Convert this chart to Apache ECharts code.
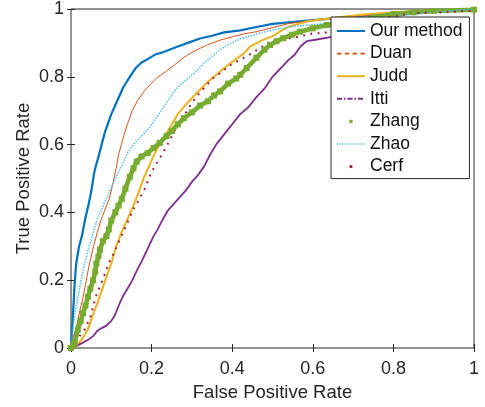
<!DOCTYPE html>
<html>
<head>
<meta charset="utf-8">
<script src="https://cdn.jsdelivr.net/npm/echarts@6/dist/echarts.min.js"></script>
<style>html,body{margin:0;padding:0;background:#fff}#c{width:485px;height:407px}</style>
</head>
<body>
<div id="c"></div>
<script>
var xTicks = [0, 0.2, 0.4, 0.6, 0.8, 1];
var yTicks = [0, 0.2, 0.4, 0.6, 0.8, 1];
var seriesNames = ['Our method', 'Duan', 'Judd', 'Itti', 'Zhang', 'Zhao', 'Cerf'];

var ourFpr = [0,0.003,0.005,0.009,0.013,0.02,0.027,0.035,0.043,0.05,0.058,0.067,0.076,0.085,0.1,0.115,0.13,0.146,0.16,0.175,0.19,0.21,0.23,0.26,0.29,0.32,0.35,0.38,0.42,0.46,0.5,0.56,0.63,0.7,0.77,0.85,0.92,1];
var ourTpr = [0,0.06,0.10,0.19,0.25,0.30,0.33,0.38,0.42,0.46,0.52,0.56,0.60,0.64,0.69,0.73,0.77,0.80,0.825,0.842,0.852,0.866,0.873,0.887,0.90,0.913,0.921,0.931,0.937,0.947,0.956,0.963,0.97,0.978,0.985,0.992,0.997,1];

var duanFpr = [0,0.005,0.013,0.022,0.03,0.038,0.046,0.056,0.065,0.075,0.085,0.095,0.105,0.112,0.118,0.125,0.132,0.14,0.152,0.165,0.18,0.195,0.213,0.235,0.26,0.28,0.30,0.32,0.34,0.37,0.40,0.43,0.46,0.50,0.54,0.60,0.66,0.72,0.80,0.88,1];
var duanTpr = [0,0.03,0.06,0.11,0.15,0.20,0.25,0.30,0.34,0.38,0.41,0.44,0.49,0.53,0.57,0.60,0.63,0.66,0.70,0.73,0.755,0.775,0.797,0.815,0.838,0.857,0.872,0.884,0.895,0.908,0.918,0.927,0.933,0.945,0.957,0.966,0.973,0.98,0.988,0.995,1];

var juddFpr = [0,0.01,0.02,0.03,0.042,0.055,0.065,0.075,0.088,0.10,0.112,0.125,0.14,0.155,0.168,0.18,0.193,0.207,0.222,0.235,0.248,0.265,0.285,0.31,0.335,0.36,0.38,0.41,0.43,0.445,0.475,0.50,0.52,0.54,0.585,0.625,0.68,0.74,0.80,0.87,1];
var juddTpr = [0,0.002,0.015,0.03,0.055,0.10,0.13,0.165,0.21,0.25,0.30,0.34,0.38,0.42,0.46,0.50,0.535,0.572,0.605,0.63,0.655,0.69,0.718,0.75,0.78,0.805,0.826,0.853,0.87,0.89,0.908,0.92,0.935,0.948,0.963,0.97,0.978,0.985,0.99,0.995,1];

var ittiFpr = [0,0.01,0.02,0.03,0.042,0.055,0.065,0.075,0.088,0.10,0.108,0.115,0.122,0.13,0.14,0.15,0.158,0.166,0.175,0.185,0.195,0.205,0.215,0.228,0.24,0.255,0.27,0.285,0.30,0.315,0.33,0.345,0.36,0.38,0.40,0.42,0.44,0.46,0.48,0.50,0.52,0.54,0.555,0.57,0.585,0.61,0.64,0.67,0.72,0.78,0.83,0.90,1];
var ittiTpr = [0,0.005,0.01,0.016,0.024,0.035,0.05,0.058,0.066,0.08,0.095,0.115,0.135,0.155,0.175,0.195,0.215,0.235,0.255,0.28,0.305,0.33,0.35,0.38,0.405,0.425,0.445,0.465,0.49,0.51,0.535,0.57,0.60,0.63,0.66,0.69,0.71,0.74,0.765,0.80,0.825,0.85,0.865,0.89,0.905,0.91,0.916,0.925,0.945,0.97,0.985,0.993,0.998];

var zhangFpr = [0,0.005,0.009,0.017,0.024,0.03,0.036,0.042,0.048,0.055,0.06,0.063,0.068,0.072,0.079,0.088,0.094,0.10,0.11,0.118,0.126,0.135,0.146,0.155,0.163,0.175,0.19,0.205,0.22,0.237,0.25,0.265,0.28,0.30,0.32,0.34,0.355,0.37,0.39,0.41,0.42,0.436,0.46,0.48,0.494,0.51,0.527,0.548,0.568,0.60,0.635,0.66,0.70,0.75,0.80,0.85,0.90,1];
var zhangTpr = [0,0.008,0.015,0.054,0.08,0.103,0.125,0.151,0.175,0.20,0.225,0.249,0.27,0.29,0.315,0.33,0.35,0.376,0.40,0.42,0.44,0.47,0.505,0.53,0.55,0.565,0.575,0.59,0.605,0.625,0.64,0.66,0.678,0.695,0.715,0.728,0.745,0.757,0.78,0.795,0.806,0.826,0.856,0.88,0.894,0.905,0.914,0.924,0.933,0.943,0.953,0.958,0.965,0.975,0.985,0.99,0.994,0.998];

var zhaoFpr = [0,0.002,0.005,0.01,0.017,0.025,0.034,0.045,0.055,0.065,0.08,0.095,0.11,0.125,0.14,0.155,0.175,0.195,0.215,0.235,0.255,0.27,0.29,0.31,0.33,0.35,0.37,0.39,0.42,0.46,0.50,0.55,0.61,0.67,0.73,0.80,0.85,0.90,0.95,1];
var zhaoTpr = [0,0.03,0.06,0.10,0.15,0.20,0.25,0.30,0.34,0.38,0.42,0.46,0.50,0.535,0.575,0.60,0.625,0.65,0.685,0.72,0.755,0.775,0.795,0.815,0.84,0.86,0.88,0.895,0.912,0.926,0.938,0.948,0.955,0.962,0.968,0.978,0.985,0.99,0.995,1];

var cerfFpr = [0,0.009,0.02,0.034,0.048,0.061,0.078,0.094,0.11,0.125,0.14,0.155,0.17,0.183,0.20,0.22,0.235,0.25,0.265,0.28,0.295,0.312,0.333,0.353,0.37,0.386,0.403,0.42,0.444,0.469,0.49,0.51,0.556,0.60,0.63,0.70,0.78,0.85,0.92,1];
var cerfTpr = [0,0.015,0.033,0.055,0.09,0.15,0.20,0.25,0.29,0.33,0.37,0.41,0.44,0.47,0.52,0.56,0.59,0.625,0.66,0.685,0.714,0.743,0.77,0.797,0.811,0.826,0.84,0.85,0.866,0.885,0.90,0.909,0.916,0.928,0.93,0.95,0.975,0.988,0.99,0.995];

function zip(a, b) { return a.map(function (v, i) { return [v, b[i]]; }); }

var FONT = "'Liberation Sans', Arial, Helvetica, sans-serif";
var TXT = '#262626';

function axisCommon(extra) {
  var o = {
    type: 'value', min: 0, max: 1, interval: 0.2,
    axisLine: { show: false },
    axisTick: { show: true, inside: true, length: 4, lineStyle: { color: TXT, width: 1 } },
    splitLine: { show: false },
    axisLabel: { show: false }
  };
  for (var k in extra) o[k] = extra[k];
  return o;
}

var chart = echarts.init(document.getElementById('c'), null, { renderer: 'canvas' });
chart.setOption({
  animation: false,
  backgroundColor: '#fff',
  grid: { left: 71, right: 11, top: 7, bottom: 59, show: true, borderColor: TXT, borderWidth: 1, backgroundColor: 'transparent' },
  xAxis: [
    axisCommon({
      position: 'bottom',
      name: 'False Positive Rate', nameLocation: 'middle', nameGap: 35, nameMoveOverlap: false,
      nameTextStyle: { fontFamily: FONT, fontSize: 18.5, color: TXT },
      axisLabel: { show: true, margin: 12, fontFamily: FONT, fontSize: 18, color: TXT,
        formatter: function (v) { return xTicks.indexOf(+v.toFixed(1)) >= 0 ? String(+v.toFixed(1)) : ''; } }
    }),
    axisCommon({ position: 'top' })
  ],
  yAxis: [
    axisCommon({
      position: 'left',
      name: 'True Positive Rate', nameLocation: 'middle', nameGap: 38, nameMoveOverlap: false,
      nameTextStyle: { fontFamily: FONT, fontSize: 18.5, color: TXT },
      axisLabel: { show: true, margin: 7, fontFamily: FONT, fontSize: 18, color: TXT,
        formatter: function (v) { return yTicks.indexOf(+v.toFixed(1)) >= 0 ? String(+v.toFixed(1)) : ''; } }
    }),
    axisCommon({ position: 'right' })
  ],
  legend: {
    orient: 'vertical', left: 331, top: 17,
    padding: [5, 7, 3, 5],
    itemWidth: 28, itemHeight: 4, itemGap: 4.6,
    backgroundColor: '#fff', borderColor: TXT, borderWidth: 1,
    selectedMode: false,
    textStyle: { fontFamily: FONT, fontSize: 17.5, color: '#111', lineHeight: 17.5 },
    data: [
      { name: 'Our method', itemStyle: { opacity: 0 } },
      { name: 'Duan', itemStyle: { opacity: 0 }, lineStyle: { color: '#D95319', width: 1.6, type: [4.5, 3.3] } },
      { name: 'Judd', itemStyle: { opacity: 0 } },
      { name: 'Itti', itemStyle: { opacity: 0 }, lineStyle: { color: '#7E2F8E', width: 2, type: [5, 2, 1.5, 2] } },
      { name: 'Zhang', lineStyle: { opacity: 0 } },
      { name: 'Zhao', itemStyle: { opacity: 0 }, lineStyle: { color: '#4DBEEE', width: 1.6, type: [1.2, 1.2] } },
      { name: 'Cerf', lineStyle: { opacity: 0 } }
    ]
  },
  series: [
    { name: seriesNames[0], type: 'line', data: zip(ourFpr, ourTpr), symbol: 'none', smooth: false,
      lineStyle: { color: '#0072BD', width: 2.2 }, itemStyle: { color: '#0072BD' } },
    { name: seriesNames[1], type: 'line', data: zip(duanFpr, duanTpr), symbol: 'none',
      lineStyle: { color: '#D95319', width: 1 }, itemStyle: { color: '#D95319' } },
    { name: seriesNames[2], type: 'line', data: zip(juddFpr, juddTpr), symbol: 'none',
      lineStyle: { color: '#EDB120', width: 2 }, itemStyle: { color: '#EDB120' } },
    { name: seriesNames[3], type: 'line', data: zip(ittiFpr, ittiTpr), symbol: 'none',
      lineStyle: { color: '#7E2F8E', width: 1.8 }, itemStyle: { color: '#7E2F8E' } },
    { name: seriesNames[4], type: 'line', data: zip(zhangFpr, zhangTpr), symbol: 'rect', symbolSize: 6,
      showSymbol: true, showAllSymbol: true,
      lineStyle: { color: '#77AC30', width: 4.6 }, itemStyle: { color: '#77AC30' } },
    { name: seriesNames[5], type: 'line', data: zip(zhaoFpr, zhaoTpr), symbol: 'none',
      lineStyle: { color: '#4DBEEE', width: 1.6, type: [1.4, 1.4] }, itemStyle: { color: '#4DBEEE' } },
    { name: seriesNames[6], type: 'line', data: zip(cerfFpr, cerfTpr), symbol: 'circle', showSymbol: false,
      lineStyle: { color: '#A2142F', width: 2, type: [1.8, 5.5] }, itemStyle: { color: '#A2142F' } }
  ]
});
</script>
</body>
</html>
